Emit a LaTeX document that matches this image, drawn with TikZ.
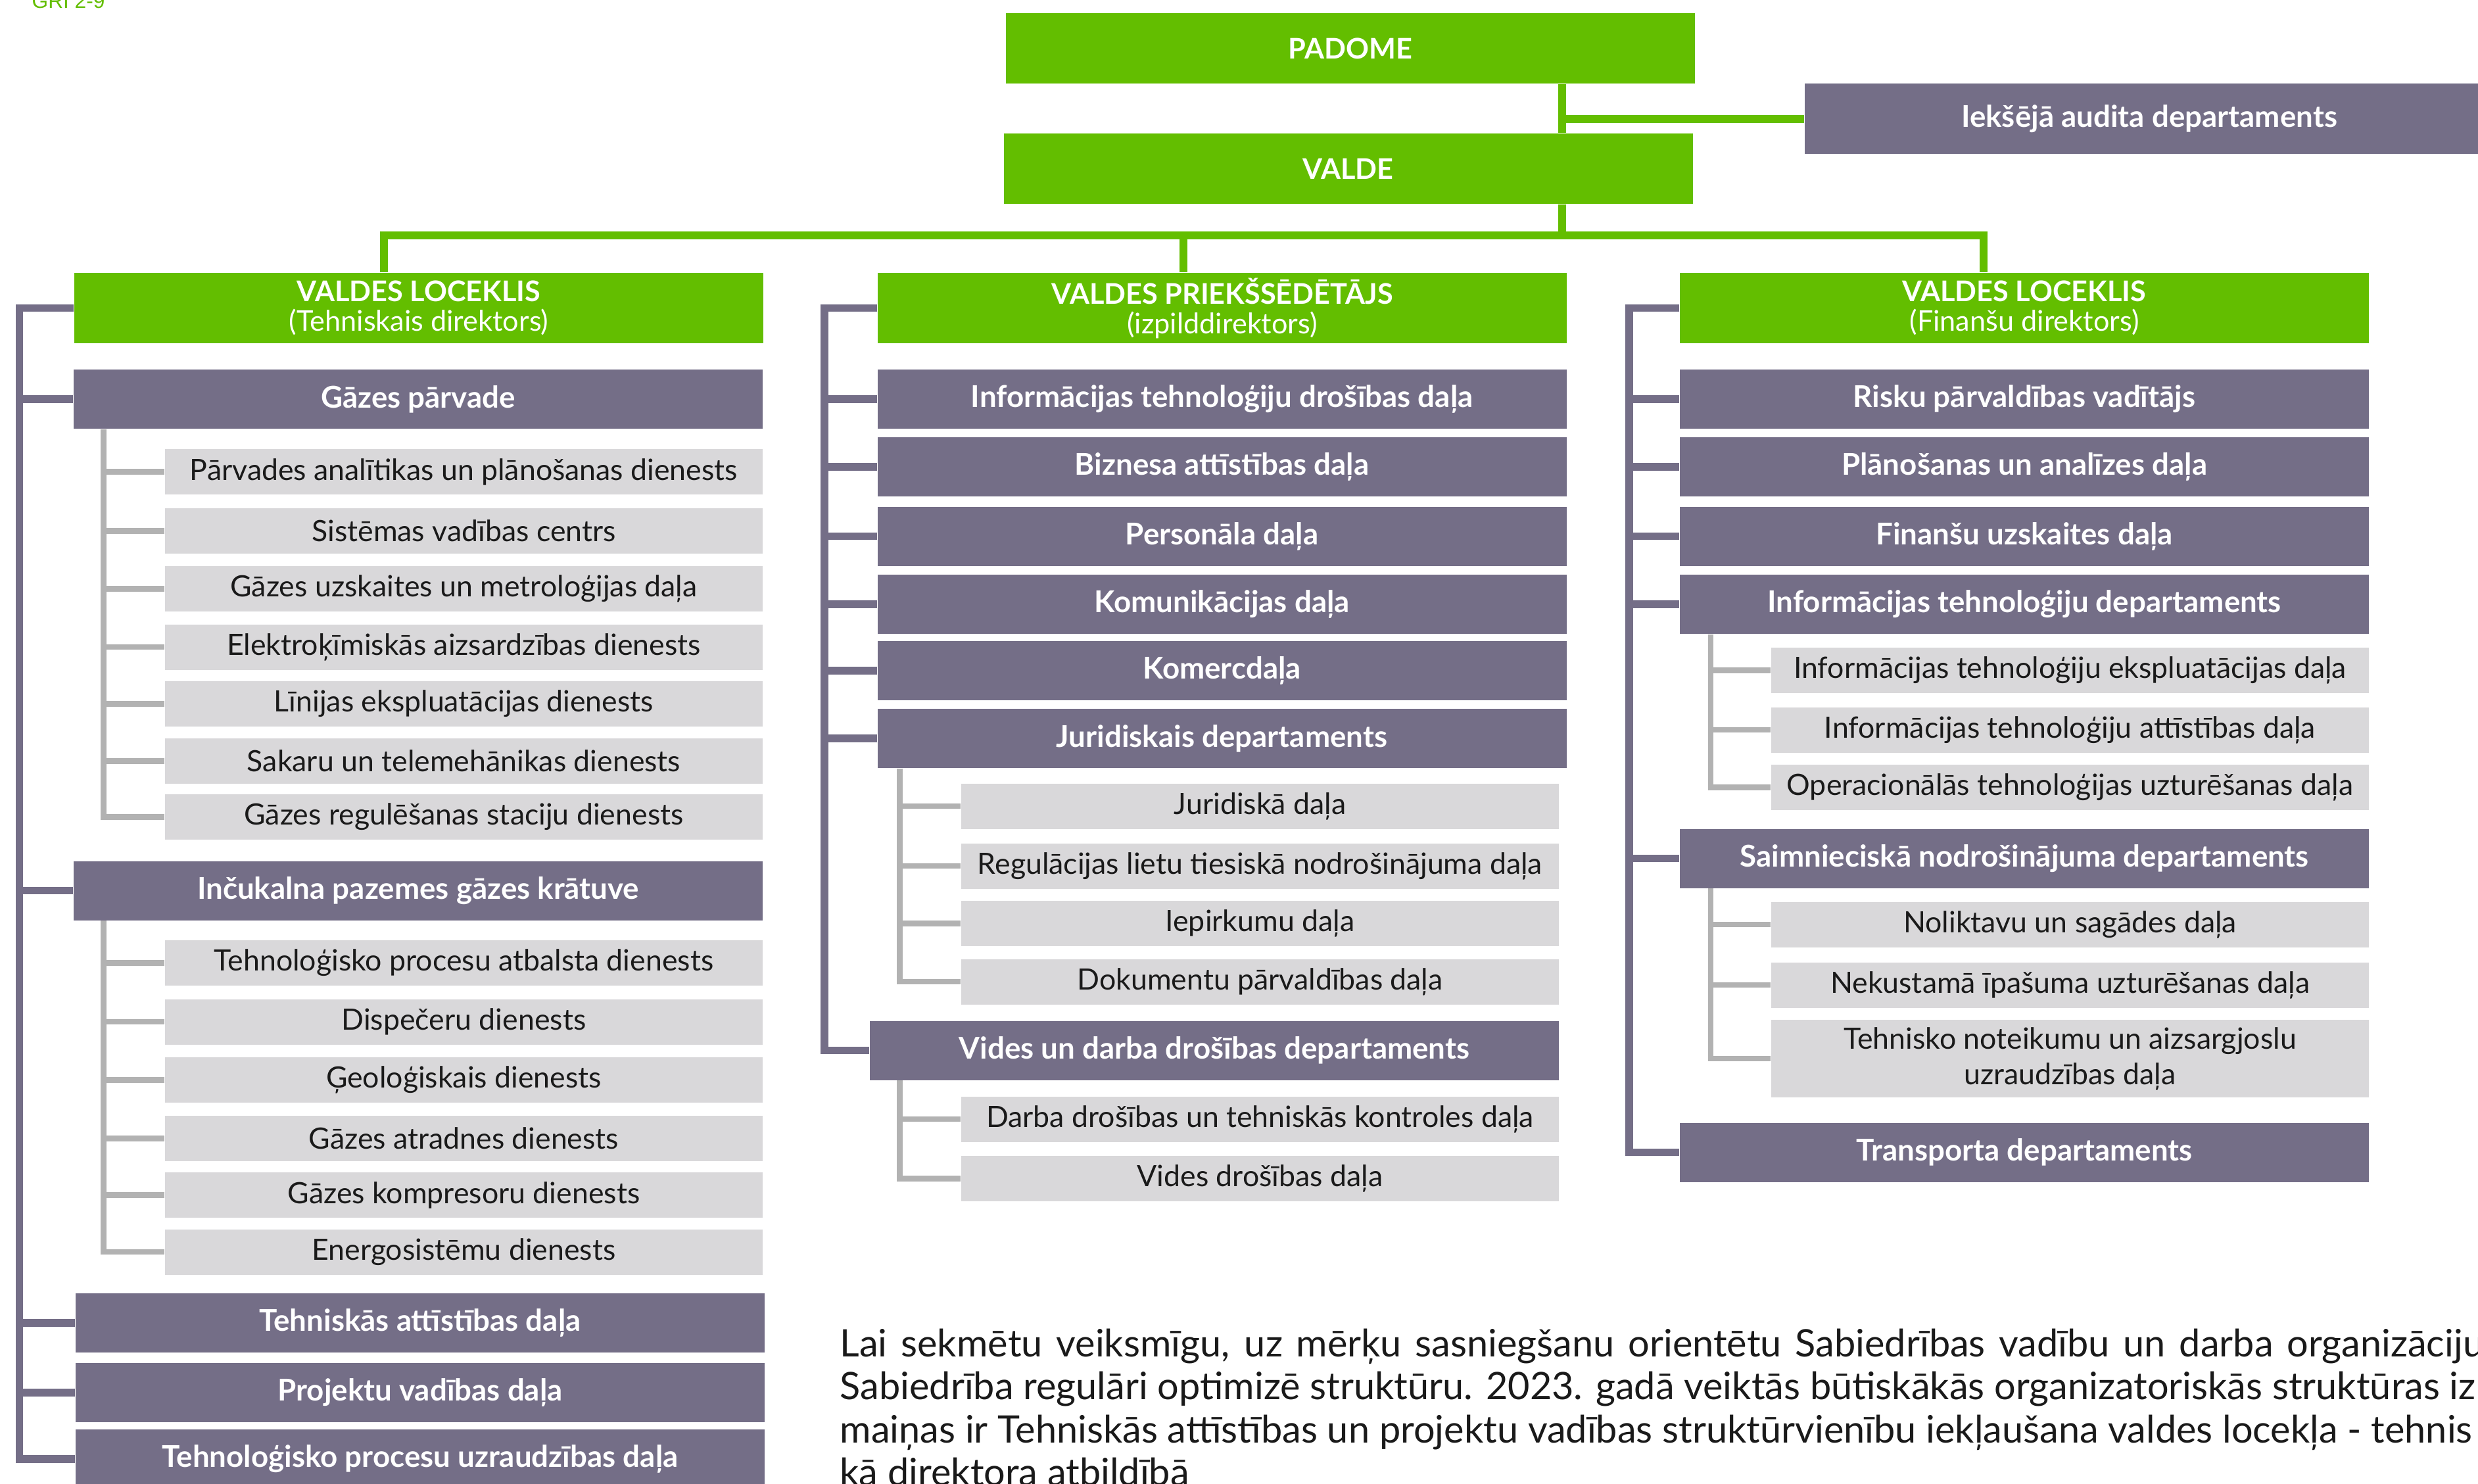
\documentclass[tikz,border=0pt]{standalone}
\usepackage{fontspec}
\setmainfont{Lato}
\newfontfamily\grifont{Liberation Sans}

\definecolor{zala}{RGB}{99,190,0}
\definecolor{violets}{RGB}{116,110,135}
\definecolor{pelekais}{RGB}{217,216,218}
\definecolor{linija}{RGB}{178,178,178}
\definecolor{teksts}{RGB}{26,26,26}

\tikzset{
  galva/.style={fill=zala, text=white, minimum width=10.48cm, minimum height=1.07cm, inner sep=0pt, align=center, font=\fontsize{12.3}{12.8}\selectfont},
  nodala/.style={fill=violets, text=white, minimum width=10.48cm, minimum height=0.9cm, inner sep=0pt, font=\bfseries\fontsize{13}{14}\selectfont},
  dala/.style={fill=pelekais, text=teksts, minimum width=9.09cm, minimum height=0.69cm, inner sep=0pt, align=center, font=\fontsize{12.7}{15.4}\selectfont},
  zlinija/.style={draw=zala, line width=0.12cm},
  vlinija/.style={draw=violets, line width=0.115cm},
  plinija/.style={draw=linija, line width=0.085cm},
  teikums/.style={anchor=base west, inner sep=0pt, text=teksts, font=\fontsize{16.4}{18.6}\selectfont}
}

\begin{document}
\begin{tikzpicture}
\useasboundingbox (0,0) rectangle (37.69,-22.56);
\clip (0,0) rectangle (37.69,-22.56);
\fill[white] (0,0) rectangle (37.69,-22.56);

\node[anchor=base west, inner sep=0pt, text=zala, font=\grifont\fontsize{9}{10}\selectfont] (gri) at (0.48,-0.12) {GRI 2-9};

\node[galva] (padome) at (20.54,-0.735) {\textbf{PADOME}};
\node[galva] (valde) at (20.505,-2.565) {\textbf{VALDE}};
\node[nodala,minimum height=1.07cm] (audits) at (32.69,-1.805) {Iekšējā audita departaments};

\node[galva] (vl1) at (6.37,-4.685) {\textbf{VALDES LOCEKLIS}\\(Tehniskais direktors)};
\node[galva] (vp) at (18.59,-4.685) {\textbf{VALDES PRIEKŠSĒDĒTĀJS}\\(izpilddirektors)};
\node[galva] (vl3) at (30.79,-4.685) {\textbf{VALDES LOCEKLIS}\\(Finanšu direktors)};

\node[nodala] (gp) at (6.36,-6.07) {Gāzes pārvade};
\node[dala] (g1) at (7.055,-7.175) {Pārvades analītikas un plānošanas dienests};
\node[dala] (g2) at (7.055,-8.075) {Sistēmas vadības centrs};
\node[dala] (g3) at (7.055,-8.955) {Gāzes uzskaites un metroloģijas daļa};
\node[dala] (g4) at (7.055,-9.84) {Elektroķīmiskās aizsardzības dienests};
\node[dala] (g5) at (7.055,-10.705) {Līnijas ekspluatācijas dienests};
\node[dala] (g6) at (7.055,-11.575) {Sakaru un telemehānikas dienests};
\node[dala] (g7) at (7.055,-12.425) {Gāzes regulēšanas staciju dienests};
\node[nodala] (ipgk) at (6.36,-13.545) {Inčukalna pazemes gāzes krātuve};
\node[dala] (k1) at (7.055,-14.645) {Tehnoloģisko procesu atbalsta dienests};
\node[dala] (k2) at (7.055,-15.54) {Dispečeru dienests};
\node[dala] (k3) at (7.055,-16.425) {Ģeoloģiskais dienests};
\node[dala] (k4) at (7.055,-17.315) {Gāzes atradnes dienests};
\node[dala] (k5) at (7.055,-18.175) {Gāzes kompresoru dienests};
\node[dala] (k6) at (7.055,-19.04) {Energosistēmu dienests};
\node[nodala] (ta) at (6.39,-20.12) {Tehniskās attīstības daļa};
\node[nodala] (pv) at (6.39,-21.18) {Projektu vadības daļa};
\node[nodala] (tp) at (6.39,-22.19) {Tehnoloģisko procesu uzraudzības daļa};

\node[nodala] (its) at (18.585,-6.07) {Informācijas tehnoloģiju drošības daļa};
\node[nodala] (ba) at (18.585,-7.10) {Biznesa attīstības daļa};
\node[nodala] (pe) at (18.585,-8.155) {Personāla daļa};
\node[nodala] (ko) at (18.585,-9.19) {Komunikācijas daļa};
\node[nodala] (kom) at (18.585,-10.20) {Komercdaļa};
\node[nodala] (jur) at (18.585,-11.23) {Juridiskais departaments};
\node[dala] (j1) at (19.165,-12.26) {Juridiskā daļa};
\node[dala] (j2) at (19.165,-13.17) {Regulācijas lietu tiesiskā nodrošinājuma daļa};
\node[dala] (j3) at (19.165,-14.045) {Iepirkumu daļa};
\node[dala] (j4) at (19.165,-14.93) {Dokumentu pārvaldības daļa};
\node[nodala] (vides) at (18.47,-15.975) {Vides un darba drošības departaments};
\node[dala] (v1) at (19.165,-17.02) {Darba drošības un tehniskās kontroles daļa};
\node[dala] (v2) at (19.165,-17.925) {Vides drošības daļa};

\node[nodala] (risk) at (30.79,-6.07) {Risku pārvaldības vadītājs};
\node[nodala] (plan) at (30.79,-7.10) {Plānošanas un analīzes daļa};
\node[nodala] (fin) at (30.79,-8.155) {Finanšu uzskaites daļa};
\node[nodala] (itd) at (30.79,-9.19) {Informācijas tehnoloģiju departaments};
\node[dala] (i1) at (31.485,-10.195) {Informācijas tehnoloģiju ekspluatācijas daļa};
\node[dala] (i2) at (31.485,-11.10) {Informācijas tehnoloģiju attīstības daļa};
\node[dala] (i3) at (31.485,-11.975) {Operacionālās tehnoloģijas uzturēšanas daļa};
\node[nodala] (saim) at (30.79,-13.055) {Saimnieciskā nodrošinājuma departaments};
\node[dala] (n1) at (31.485,-14.06) {Noliktavu un sagādes daļa};
\node[dala] (n2) at (31.485,-14.98) {Nekustamā īpašuma uzturēšanas daļa};
\node[dala,minimum height=1.18cm] (n3) at (31.485,-16.10) {Tehnisko noteikumu un aizsargjoslu\\uzraudzības daļa};
\node[nodala] (transp) at (30.79,-17.525) {Transporta departaments};

\coordinate (stumbrs) at (23.76,-3.58);
\coordinate (z1) at (5.835,-3.58);
\coordinate (z2) at (17.995,-3.58);
\coordinate (z3) at (30.165,-3.58);
\draw[zlinija] (padome.south -| stumbrs) -- (valde.north -| stumbrs);
\draw[zlinija] (stumbrs |- audits.west) -- (audits.west);
\draw[zlinija] (valde.south -| stumbrs) -- (stumbrs);
\draw[zlinija] (vl1.north -| z1) -- (z1) -- (z3) -- (vl3.north -| z3);
\draw[zlinija] (z2) -- (vp.north -| z2);

\coordinate (s1) at (0.295,0);
\coordinate (s2) at (12.54,0);
\coordinate (s3) at (24.78,0);
\draw[vlinija] (vl1.west) -| (tp.west -| s1) -- (tp.west);
\draw[vlinija] (gp.west -| s1) -- (gp.west);
\draw[vlinija] (ipgk.west -| s1) -- (ipgk.west);
\draw[vlinija] (ta.west -| s1) -- (ta.west);
\draw[vlinija] (pv.west -| s1) -- (pv.west);
\draw[vlinija] (vp.west) -| (vides.west -| s2) -- (vides.west);
\draw[vlinija] (its.west -| s2) -- (its.west);
\draw[vlinija] (ba.west -| s2) -- (ba.west);
\draw[vlinija] (pe.west -| s2) -- (pe.west);
\draw[vlinija] (ko.west -| s2) -- (ko.west);
\draw[vlinija] (kom.west -| s2) -- (kom.west);
\draw[vlinija] (jur.west -| s2) -- (jur.west);
\draw[vlinija] (vl3.west) -| (transp.west -| s3) -- (transp.west);
\draw[vlinija] (risk.west -| s3) -- (risk.west);
\draw[vlinija] (plan.west -| s3) -- (plan.west);
\draw[vlinija] (fin.west -| s3) -- (fin.west);
\draw[vlinija] (itd.west -| s3) -- (itd.west);
\draw[vlinija] (saim.west -| s3) -- (saim.west);

\coordinate (p1) at (1.575,0);
\coordinate (p2) at (13.685,0);
\coordinate (p3) at (26.02,0);
\draw[plinija] (gp.south -| p1) |- (g7.west);
\draw[plinija] (g1.west -| p1) -- (g1.west);
\draw[plinija] (g2.west -| p1) -- (g2.west);
\draw[plinija] (g3.west -| p1) -- (g3.west);
\draw[plinija] (g4.west -| p1) -- (g4.west);
\draw[plinija] (g5.west -| p1) -- (g5.west);
\draw[plinija] (g6.west -| p1) -- (g6.west);
\draw[plinija] (ipgk.south -| p1) |- (k6.west);
\draw[plinija] (k1.west -| p1) -- (k1.west);
\draw[plinija] (k2.west -| p1) -- (k2.west);
\draw[plinija] (k3.west -| p1) -- (k3.west);
\draw[plinija] (k4.west -| p1) -- (k4.west);
\draw[plinija] (k5.west -| p1) -- (k5.west);
\draw[plinija] (jur.south -| p2) |- (j4.west);
\draw[plinija] (j1.west -| p2) -- (j1.west);
\draw[plinija] (j2.west -| p2) -- (j2.west);
\draw[plinija] (j3.west -| p2) -- (j3.west);
\draw[plinija] (vides.south -| p2) |- (v2.west);
\draw[plinija] (v1.west -| p2) -- (v1.west);
\draw[plinija] (itd.south -| p3) |- (i3.west);
\draw[plinija] (i1.west -| p3) -- (i1.west);
\draw[plinija] (i2.west -| p3) -- (i2.west);
\draw[plinija] (saim.south -| p3) |- (n3.west);
\draw[plinija] (n1.west -| p3) -- (n1.west);
\draw[plinija] (n2.west -| p3) -- (n2.west);

\node[teikums] (r1) at (12.77,-20.63) {\makebox[25.0cm][s]{Lai sekmētu veiksmīgu, uz mērķu sasniegšanu orientētu Sabiedrības vadību un darba organizāciju}};
\node[teikums] (r2) at (12.77,-21.285) {Sabiedrība regulāri optimizē struktūru. 2023. gadā veiktās būtiskākās organizatoriskās struktūras iz};
\node[teikums] (r3) at (12.77,-21.94) {maiņas ir Tehniskās attīstības un projektu vadības struktūrvienību iekļaušana valdes locekļa - tehnis};
\node[teikums] (r4) at (12.77,-22.595) {kā direktora atbildībā};
\end{tikzpicture}
\end{document}
